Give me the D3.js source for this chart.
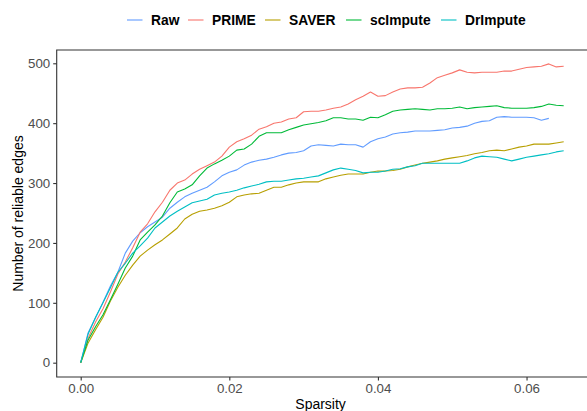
<!DOCTYPE html>
<html>
<head>
<meta charset="utf-8">
<script src="https://cdn.jsdelivr.net/npm/d3@7"></script>
<style>
  body { margin: 0; background: #fff; }
  svg { display: block; font-family: "Liberation Sans", Arial, sans-serif; }
</style>
</head>
<body>
<script>
// Sparsity values (step of 0.001)
var sparsity = d3.range(66).map(function(i) { return i / 1000; });

// Number of reliable edges per method
var raw = [0,50,75,101,128,151,183,203,217,227,235,243,258,268,277,283,288,293,302,312,
  318,322,330,335,338,340,343,347,350,351,354,362,364,363,362,365,364,364,360,369,
  374,377,382,384,385,387,387,387,388,389,392,393,395,400,403,404,410,411,410,410,
  410,409,405,408];
var prime = [0,41,68,90,118,148,168,192,218,232,252,268,288,300,305,315,323,329,335,345,
  360,369,374,380,390,394,400,402,407,409,419,420,420,422,425,427,432,439,445,452,
  445,446,452,457,459,459,460,467,476,480,484,489,485,484,485,485,485,487,487,490,
  493,494,495,499,494,495];
var saver = [0,33,55,76,103,126,146,163,178,188,197,205,215,225,240,248,253,255,258,262,
  268,277,280,282,283,288,293,293,297,300,302,302,302,307,310,313,315,315,315,318,
  320,320,321,323,327,330,333,335,337,340,342,344,346,349,351,354,355,354,357,360,
  362,365,365,365,367,369];
var scimpute = [0,38,60,80,105,131,158,178,205,218,230,245,267,285,290,297,312,325,332,338,
  345,355,357,365,378,384,384,384,389,393,397,399,401,404,409,409,407,407,405,410,
  409,414,420,422,423,424,423,422,424,424,425,427,424,426,427,428,429,426,425,425,
  425,426,428,432,430,429];
var drimpute = [0,48,76,100,125,151,166,183,195,208,225,235,245,253,260,267,270,273,280,283,
  285,288,292,295,298,302,303,303,305,307,308,310,312,317,322,325,323,321,317,318,
  318,320,323,324,327,329,333,333,333,333,333,333,337,342,345,344,343,340,337,340,
  343,345,347,349,352,354];

var methods = ["Raw", "PRIME", "SAVER", "scImpute", "DrImpute"];
var seriesValues = [raw, prime, saver, scimpute, drimpute];
var colors = ["#619CFF", "#F8766D", "#B79F00", "#00BA38", "#00BFC4"];

var xTicks = [0, 0.02, 0.04, 0.06];
var yTicks = [0, 100, 200, 300, 400, 500];

//Width and height
var w = 587;
var h = 411;
var panelLeft = 56.7, panelTop = 50, panelBottom = 377, panelRight = 584.5;

var svg = d3.select("body")
            .append("svg")
            .attr("width", w)
            .attr("height", h);

var x = d3.scaleLinear()
          .domain([-0.00323, 0.0678])
          .range([panelLeft, panelRight]);

var y = d3.scaleLinear()
          .domain([-23.9, 522.2])
          .range([panelBottom, panelTop]);

//Lines
var line = d3.line()
             .x(function(d) { return x(d[0]); })
             .y(function(d) { return y(d[1]); });

var plot = svg.append("g");

seriesValues.forEach(function(vals, k) {
    var pts = vals.map(function(v, i) { return [sparsity[i], v]; });
    plot.append("path")
        .datum(pts)
        .attr("d", line)
        .attr("fill", "none")
        .attr("stroke", colors[k])
        .attr("stroke-width", 1.1)
        .attr("stroke-linejoin", "round");
});

//Panel lines: left, bottom and top
svg.append("path")
   .attr("d", "M" + w + "," + panelTop + "H" + panelLeft + "V" + panelBottom + "H" + w)
   .attr("fill", "none")
   .attr("stroke", "#333")
   .attr("stroke-width", 1.1);

//X axis
var xAxis = d3.axisBottom(x)
              .tickValues(xTicks)
              .tickFormat(d3.format(".2f"))
              .tickSize(3.5)
              .tickPadding(3);

var gx = svg.append("g")
            .attr("transform", "translate(0," + panelBottom + ")")
            .call(xAxis);
gx.select(".domain").remove();
gx.selectAll("line").attr("stroke", "#333").attr("stroke-width", 1.1);
gx.selectAll("text").attr("fill", "#4D4D4D").attr("font-size", 13.3)
  .attr("font-family", "Liberation Sans, Arial, sans-serif");

//Y axis
var yAxis = d3.axisLeft(y)
              .tickValues(yTicks)
              .tickSize(3.5)
              .tickPadding(3);

var gy = svg.append("g")
            .attr("transform", "translate(" + panelLeft + ",0)")
            .call(yAxis);
gy.select(".domain").remove();
gy.selectAll("line").attr("stroke", "#333").attr("stroke-width", 1.1);
gy.selectAll("text").attr("fill", "#4D4D4D").attr("font-size", 13.3)
  .attr("font-family", "Liberation Sans, Arial, sans-serif");

//Axis titles
svg.append("text")
   .attr("x", (panelLeft + panelRight) / 2)
   .attr("y", 409)
   .attr("text-anchor", "middle")
   .attr("font-size", 14)
   .attr("fill", "#000")
   .text("Sparsity");

svg.append("text")
   .attr("transform", "translate(23," + ((panelTop + panelBottom) / 2) + ") rotate(-90)")
   .attr("text-anchor", "middle")
   .attr("font-size", 14)
   .attr("fill", "#000")
   .text("Number of reliable edges");

//Legend
var keyX = [127, 188, 265, 346, 441];
var legend = svg.append("g").attr("class", "legend");

methods.forEach(function(m, k) {
    legend.append("line")
          .attr("x1", keyX[k])
          .attr("x2", keyX[k] + 15.5)
          .attr("y1", 20)
          .attr("y2", 20)
          .attr("stroke", colors[k])
          .attr("stroke-width", 1.1);
    legend.append("text")
          .attr("x", keyX[k] + 24)
          .attr("y", 25)
          .attr("font-size", 13.8)
          .attr("font-weight", "bold")
          .attr("fill", "#000")
          .text(m);
});
</script>
</body>
</html>
